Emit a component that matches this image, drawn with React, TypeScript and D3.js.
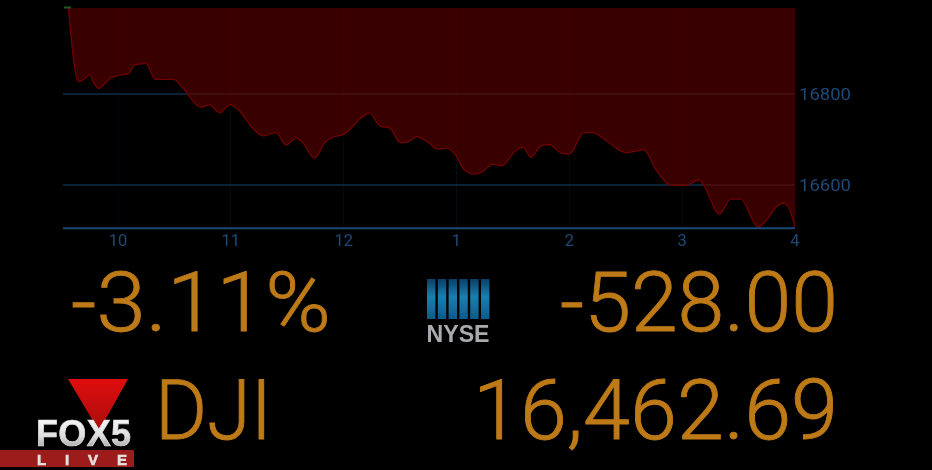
import React from "react";
import * as d3 from "d3";

const hours = [9.56,9.65,9.69,9.75,9.78,9.83,9.87,9.93,9.99,10.09,10.15,10.25,10.33,10.49,10.58,10.73,10.81,10.9,10.99,11.07,11.17,11.29,11.4,11.49,11.58,11.64,11.74,11.83,11.91,11.99,12.23,12.32,12.41,12.5,12.57,12.65,12.76,12.83,12.91,12.98,13.07,13.16,13.23,13.32,13.4,13.53,13.59,13.66,13.75,13.82,13.93,14,14.13,14.21,14.32,14.5,14.66,14.77,14.91,15.03,15.15,15.19,15.33,15.43,15.52,15.67,15.89,15.93,16];
const prices = [16990,16827,16831,16842,16827,16812,16820,16834,16840,16844,16864,16867,16832,16832,16812,16771,16776,16759,16776,16765,16732,16708,16715,16688,16703,16692,16659,16692,16706,16710,16758,16730,16725,16693,16695,16706,16692,16679,16681,16670,16633,16624,16629,16646,16642,16677,16683,16661,16686,16689,16670,16668,16715,16715,16699,16671,16677,16633,16599,16599,16611,16600,16536,16569,16569,16508,16560,16556,16508];
const xTickHours = [10,11,12,13,14,15,16];
const xTickLabels = ["10","11","12","1","2","3","4"];
const yTicks = [16800,16600];
const baselineValue = 16505;
const topValue = 16989;
const percentChange = "-3.11%";
const pointChange = "-528.00";
const indexName = "DJI";
const indexValue = "16,462.69";
const nyseBars = [0,1,2,3,4,5];

const x = d3.scaleLinear().domain([10, 16]).range([118, 795]);
const y = d3.scaleLinear().domain([16800, 16600]).range([94, 185]);

const pts = hours.map((h, i) => [h, prices[i]] as [number, number]);
const curve = d3.curveMonotoneX;
const linePath = d3.line<[number, number]>().x(d => x(d[0])).y(d => y(d[1])).curve(curve)(pts) as string;
const areaPath = d3.area<[number, number]>().x(d => x(d[0])).y0(y(topValue)).y1(d => y(d[1])).curve(curve)(pts) as string;

const FONT = "Roboto, 'Open Sans', 'Liberation Sans', sans-serif";
const ORANGE = "#bd7a18";
const BLUE = "#1c4a78";

export default function App() {
  return (
    <svg width={932} height={470} style={{ position: "fixed", left: 0, top: 0, display: "block", background: "#000" }}>
      <defs>
        <clipPath id="above"><path d={areaPath} /></clipPath>
        <filter id="soft" x="-5%" y="-5%" width="110%" height="110%"><feGaussianBlur stdDeviation="0.7" /></filter>
        <linearGradient id="nyse" x1="0" x2="0" y1="0" y2="1">
          <stop offset="0" stopColor="#0a3f66" />
          <stop offset="0.45" stopColor="#1a7fb0" />
          <stop offset="1" stopColor="#0f5a8a" />
        </linearGradient>
        <linearGradient id="fox" x1="0" x2="0" y1="0" y2="1">
          <stop offset="0" stopColor="#ffffff" />
          <stop offset="0.55" stopColor="#e0e0e0" />
          <stop offset="1" stopColor="#8e8e8e" />
        </linearGradient>
        <linearGradient id="tri" x1="0" x2="0" y1="0" y2="1">
          <stop offset="0" stopColor="#e01010" />
          <stop offset="1" stopColor="#a80808" />
        </linearGradient>
      </defs>
      <rect width={932} height={470} fill="#000" />
      <g filter="url(#soft)">
        {xTickHours.slice(0, 6).map(h => (
          <line key={h} x1={x(h)} x2={x(h)} y1={8} y2={228} stroke="#040c14" strokeWidth={1} />
        ))}
        {yTicks.map(v => (
          <line key={v} x1={63} x2={795} y1={y(v)} y2={y(v)} stroke="#0f2c47" strokeWidth={1.4} />
        ))}
        <path d={areaPath} fill="#380000" />
        <g clipPath="url(#above)">
          {xTickHours.slice(0, 6).map(h => (
            <line key={h} x1={x(h)} x2={x(h)} y1={8} y2={228} stroke="#420604" strokeWidth={1} />
          ))}
          {yTicks.map(v => (
            <line key={v} x1={63} x2={795} y1={y(v)} y2={y(v)} stroke="#4c1810" strokeWidth={1.2} />
          ))}
        </g>
        <path d={linePath} fill="none" stroke="#700404" strokeWidth={1.3} />
        <line x1={63} x2={795} y1={y(baselineValue)} y2={y(baselineValue)} stroke={BLUE} strokeWidth={1.8} />
        <line x1={64} x2={71} y1={7.5} y2={7.5} stroke="#1f5a1a" strokeWidth={2} />
        {xTickHours.map((h, i) => (
          <text key={h} x={x(h)} y={246} textAnchor="middle" fontFamily={FONT} fontSize={16.5} fill={BLUE}>{xTickLabels[i]}</text>
        ))}
        {yTicks.map(v => (
          <text key={v} x={799} y={y(v) + 6} fontFamily={FONT} fontSize={17} fill={BLUE} textLength={52} lengthAdjust="spacingAndGlyphs">{v}</text>
        ))}
      </g>
      <g filter="url(#soft)" fontFamily={FONT} fontWeight={300} fill={ORANGE} stroke={ORANGE} strokeWidth={0.9}>
        <text x={71} y={331} fontSize={84} textLength={260} lengthAdjust="spacingAndGlyphs">{percentChange}</text>
        <text x={838} y={331} fontSize={84} textAnchor="end" textLength={278} lengthAdjust="spacingAndGlyphs">{pointChange}</text>
        <text x={155} y={439} fontSize={84} textLength={117} lengthAdjust="spacingAndGlyphs">{indexName}</text>
        <text x={838} y={439} fontSize={84} textAnchor="end" textLength={365} lengthAdjust="spacingAndGlyphs">{indexValue}</text>
      </g>
      <g filter="url(#soft)">
        {nyseBars.map(i => (
          <rect key={i} x={427 + i * 10.8} y={279} width={8.4} height={40} fill="url(#nyse)" />
        ))}
        <text x={458} y={342} textAnchor="middle" fontFamily="'Liberation Sans', sans-serif" fontWeight={700} fontSize={23} fill="#a8acb0" textLength={63} lengthAdjust="spacingAndGlyphs">NYSE</text>
      </g>
      <g filter="url(#soft)">
        <path d="M68,379 L128,379 L99,431 Z" fill="url(#tri)" />
        <text x={36} y={446} fontFamily="'Liberation Sans', sans-serif" fontWeight={700} fontSize={36} fill="url(#fox)" stroke="#ddd" strokeWidth={0.7} textLength={95} lengthAdjust="spacing">FOX5</text>
        <rect x={0} y={450} width={134} height={17} fill="#9c1c1c" />
        <text x={37} y={465} fontFamily="'Liberation Sans', sans-serif" fontWeight={700} fontSize={15} fill="#e4e0e0" stroke="#e4e0e0" strokeWidth={0.6} textLength={90} lengthAdjust="spacing">LIVE</text>
      </g>
    </svg>
  );
}
